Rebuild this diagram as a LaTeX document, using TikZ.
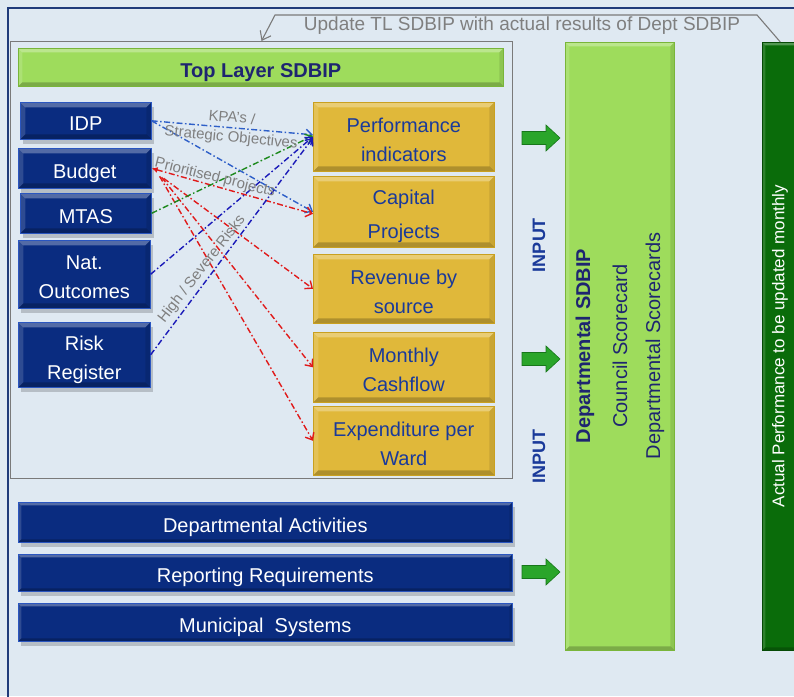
\documentclass[tikz,border=0pt]{standalone}
\usepackage{fontspec}
\setmainfont{Liberation Sans}
\usetikzlibrary{arrows.meta,calc,shadows}
\definecolor{bg}{HTML}{DFE9F2}
\definecolor{outerblue}{HTML}{1F3A7A}
\definecolor{navybox}{HTML}{0A2C80}
\definecolor{navyedge}{HTML}{2A56C0}
\definecolor{goldbox}{HTML}{E0B83A}
\definecolor{goldedge}{HTML}{C9A020}
\definecolor{goldtext}{HTML}{1A3A9A}
\definecolor{limebox}{HTML}{9EDC5C}
\definecolor{limeedge}{HTML}{79B53A}
\definecolor{darkgreen}{HTML}{0A6C0A}
\definecolor{darkgreenedge}{HTML}{064A06}
\definecolor{navytext}{HTML}{1E2570}
\definecolor{labelgray}{HTML}{7F7F7F}
\definecolor{framegray}{HTML}{7A7A7A}
\definecolor{arrowgreen}{HTML}{2AA52A}
\definecolor{arrowdark}{HTML}{17761A}
\definecolor{lineblue}{HTML}{2E5FC8}
\definecolor{lineblueb}{HTML}{1A1AB8}
\definecolor{linered}{HTML}{E01A1A}
\definecolor{linegreen}{HTML}{1E8A1E}
\newcommand\grnarrow[1]{%
  \fill[arrowgreen, draw=arrowdark, line width=0.6pt]
    (522,{#1-6.5}) -- (546,{#1-6.5}) -- (546,{#1-13}) -- (560,#1)
    -- (546,{#1+13}) -- (546,{#1+6.5}) -- (522,{#1+6.5}) -- cycle;}
\newcommand\lowtxt[2][4pt]{\raisebox{-#1}[\height][\depth]{\begin{tabular}{@{}c@{}}#2\end{tabular}}}
\tikzset{
  bevel/.style={path picture={
    \coordinate (bnw) at (path picture bounding box.north west);
    \coordinate (bne) at (path picture bounding box.north east);
    \coordinate (bsw) at (path picture bounding box.south west);
    \coordinate (bse) at (path picture bounding box.south east);
    \fill[white,opacity=.30] (bnw) -- (bne) -- ([xshift=-#1,yshift=-#1]bne) -- ([xshift=#1,yshift=-#1]bnw) -- cycle;
    \fill[white,opacity=.15] (bnw) -- (bsw) -- ([xshift=#1,yshift=#1]bsw) -- ([xshift=#1,yshift=-#1]bnw) -- cycle;
    \fill[black,opacity=.22] (bsw) -- (bse) -- ([xshift=-#1,yshift=#1]bse) -- ([xshift=#1,yshift=#1]bsw) -- cycle;
    \fill[black,opacity=.10] (bne) -- (bse) -- ([xshift=-#1,yshift=#1]bse) -- ([xshift=-#1,yshift=-#1]bne) -- cycle;
  }},
  bevel/.default=5pt,
  box/.style={rectangle, inner sep=0pt, anchor=north west, align=center,
    font=\fontsize{20}{29}\selectfont},
  bluebox/.style={box, fill=navybox, draw=navyedge, line width=0.6pt, text=white, bevel,
    drop shadow={shadow xshift=3pt, shadow yshift=-5pt, opacity=0.18, fill=black}},
  goldbx/.style={box, fill=goldbox, draw=goldedge, line width=0.6pt, text=goldtext, bevel},
  limebx/.style={box, fill=limebox, draw=limeedge, line width=0.6pt, bevel=4pt},
  vtext/.style={rotate=90, inner sep=0pt},
  lbl/.style={text=labelgray, inner sep=0pt, font=\fontsize{15}{17}\selectfont},
  conn/.style={line width=1.4pt, dash pattern=on 6pt off 2.5pt on 1.5pt off 2.5pt,
    -{Straight Barb[length=6pt,width=10pt]}},
}
\begin{document}
\begin{tikzpicture}[x=1pt,y=-1pt]
\useasboundingbox (0,0) rectangle (794,696);
\fill[bg] (0,0) rectangle (794,696);
\draw[outerblue, line width=1.6pt] (8,700) -- (8,8) -- (798,8);

% Top layer frame
\node[draw=framegray, line width=1pt, rectangle, inner sep=0pt, anchor=north west,
  minimum width=502pt, minimum height=437pt] (tlframe) at (10,41) {};
\node[limebx, minimum width=485pt, minimum height=38pt, text=navytext,
  font=\fontsize{20}{29}\selectfont\bfseries] (toplayer) at (18,48) {\lowtxt{Top Layer SDBIP}};

% Left blue boxes
\node[bluebox, minimum width=131pt, minimum height=37pt] (idp) at (20,102) {\lowtxt{IDP}};
\node[bluebox, minimum width=133pt, minimum height=40pt] (budget) at (18,148) {\lowtxt{Budget}};
\node[bluebox, minimum width=131pt, minimum height=40pt] (mtas) at (20,193) {\lowtxt{MTAS}};
\node[bluebox, minimum width=132pt, minimum height=68pt] (nat) at (18,240) {\lowtxt{Nat.\\Outcomes}};
\node[bluebox, minimum width=132pt, minimum height=65pt] (risk) at (18,322) {\lowtxt{Risk\\Register}};

% Gold boxes
\node[goldbx, minimum width=181pt, minimum height=69pt] (perf) at (313,102) {\lowtxt{Performance\\indicators}};
\node[goldbx, minimum width=181pt, minimum height=71pt] (capital) at (313,176) {\lowtxt{Capital\\[5pt]Projects}};
\node[goldbx, minimum width=181pt, minimum height=69pt] (revenue) at (313,254) {\lowtxt{Revenue by\\source}};
\node[goldbx, minimum width=181pt, minimum height=70pt] (monthly) at (313,332) {\lowtxt{Monthly\\Cashflow}};
\node[goldbx, minimum width=181pt, minimum height=69pt] (expend) at (313,406) {\lowtxt{Expenditure per\\Ward}};

% Bottom bars
\node[bluebox, bevel=3pt, minimum width=494pt, minimum height=40pt] (deptact) at (18,502) {\lowtxt{Departmental Activities}};
\node[bluebox, bevel=3pt, minimum width=494pt, minimum height=37pt] (reporting) at (18,554) {\lowtxt{Reporting Requirements}};
\node[bluebox, bevel=3pt, minimum width=494pt, minimum height=38pt] (munsys) at (18,603) {\lowtxt{Municipal\ \ Systems}};

% Right bars
\node[limebx, minimum width=109pt, minimum height=608pt] (deptbar) at (565,42) {};
\node[box, fill=darkgreen, draw=darkgreenedge, line width=0.6pt, bevel=3pt,
  minimum width=36pt, minimum height=608pt] (actualbar) at (762,42) {};
\node[vtext, text=navytext, font=\fontsize{20}{24}\selectfont\bfseries] (dsdbip) at (585,346) {Departmental SDBIP};
\node[vtext, text=navytext, font=\fontsize{20}{24}\selectfont] (council) at (620,346) {Council Scorecard};
\node[vtext, text=navytext, font=\fontsize{20}{24}\selectfont] (dscore) at (655,346) {Departmental Scorecards};
\node[vtext, text=white, font=\fontsize{17}{20}\selectfont] (actualtxt) at (780,346) {Actual Performance to be updated monthly};

% INPUT labels
\node[vtext, text=goldtext, font=\fontsize{18}{20}\selectfont\bfseries] (input1) at (539,245) {INPUT};
\node[vtext, text=goldtext, font=\fontsize{18}{20}\selectfont\bfseries] (input2) at (539,456) {INPUT};

% Green arrows
\grnarrow{138}
\grnarrow{359}
\grnarrow{572}

% Update callout
\node[text=labelgray, inner sep=0pt, font=\fontsize{19}{21}\selectfont] (update) at (522,26) {Update TL SDBIP with actual results of Dept SDBIP};
\coordinate (calloutR) at (757,15);
\coordinate (calloutL) at (275,15);
\draw[framegray, line width=1.1pt, -{Straight Barb[length=8pt,width=12pt]}]
  (actualbar.north) -- (calloutR) -- (calloutL) -- (tlframe.north);

% Connectors
\draw[conn, lineblue] (idp.east) -- ([yshift=2pt]perf.west);
\draw[conn, lineblue] (idp.east) -- (capital.west);
\draw[conn, linered, {Latex[length=6pt,width=6pt]}-{Straight Barb[length=6pt,width=10pt]}] (budget.east) -- ([yshift=-2pt]capital.west);
\draw[conn, linered] ($(budget.east)+(12,10)$) -- (revenue.west);
\draw[conn, linered] ($(budget.east)+(10,9)$) -- (monthly.west);
\draw[conn, linered] ($(budget.east)+(8,8)$) -- (expend.west);
\draw[conn, linegreen] (mtas.east) -- ([yshift=1pt]perf.west);
\draw[conn, lineblueb] (nat.east) -- (perf.west);
\draw[conn, lineblueb] (risk.east) -- ([yshift=-1pt]perf.west);

% Connector labels
\node[lbl, rotate=-5] (kpa1) at (232,117) {KPA's /};
\node[lbl, rotate=-5.5] (kpa2) at (231,138) {Strategic Objectives};
\node[lbl, rotate=-14] (prio) at (215,178) {Prioritised projects};
\node[lbl, rotate=52] (risks) at (202,269) {High / Severe Risks};
\end{tikzpicture}
\end{document}
